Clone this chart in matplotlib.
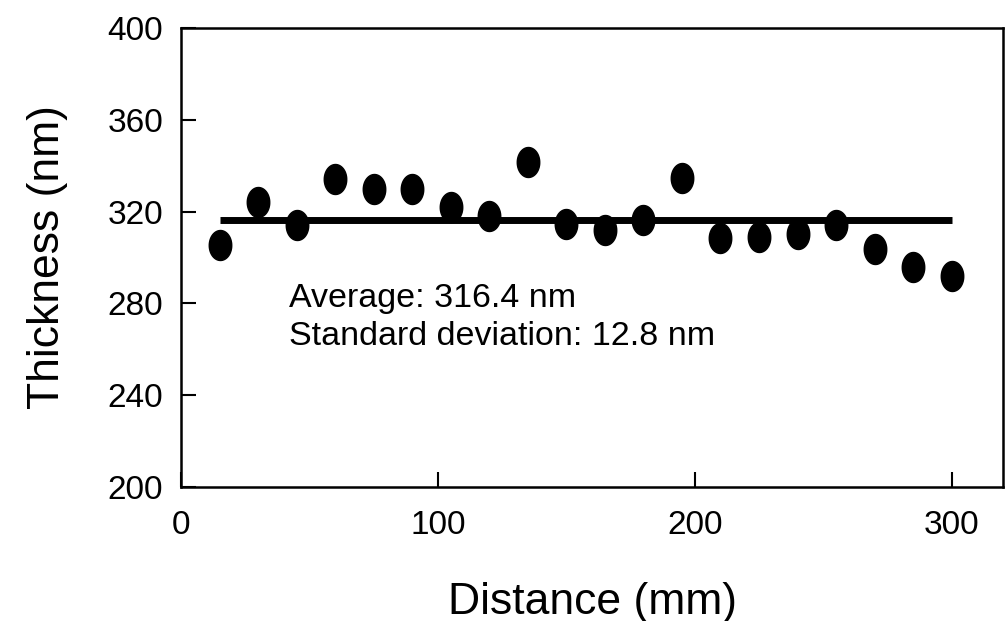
import numpy as np
import matplotlib
matplotlib.use("Agg")
import matplotlib.pyplot as plt

plt.rcParams['font.family'] = ['Liberation Sans', 'DejaVu Sans']

# thickness profile along the substrate
distance = [15, 30, 45, 60, 75, 90, 105, 120, 135, 150,
            165, 180, 195, 210, 225, 240, 255, 270, 285, 300]
thickness = [305.5, 324, 314, 334, 330, 330, 322, 318, 341.5, 314.5,
             312, 316.5, 334.5, 308.5, 309, 310, 314, 303.5, 296, 292]
average = 316.4
std_dev = 12.8

xticks = [0, 100, 200, 300]
yticks = [200, 240, 280, 320, 360, 400]

# tall ellipse marker like the scanned original
t = np.linspace(0, 2 * np.pi, 60)
ellipse = list(zip(0.75 * np.cos(t), np.sin(t)))

fig = plt.figure(figsize=(10.06, 6.21), dpi=100)
ax = fig.add_axes([0.18, 0.216, 0.817, 0.739])

ax.plot([distance[0], distance[-1]], [average, average], color='black', lw=5,
        solid_capstyle='butt', zorder=2)
ax.plot(distance, thickness, ls='none', marker=ellipse, markersize=21.6,
        color='black', zorder=3)

ax.text(42, 278.4, f"Average: {average} nm", fontsize=24.5, va='baseline')
ax.text(42, 262.0, f"Standard deviation: {std_dev} nm", fontsize=24.5, va='baseline')

ax.set_xlim(0, 320)
ax.set_ylim(200, 400)
ax.set_xticks(xticks)
ax.set_yticks(yticks)
ax.tick_params(direction='in', length=11, width=1.5, labelsize=24)
ax.tick_params(axis='x', pad=17)
ax.tick_params(axis='y', pad=13)
for s in ax.spines.values():
    s.set_linewidth(1.8)

ax.set_xlabel("Distance (mm)", fontsize=32, labelpad=29)
ax.set_ylabel("Thickness (nm)", fontsize=32, labelpad=28)

fig.savefig("out.png", dpi=100)
